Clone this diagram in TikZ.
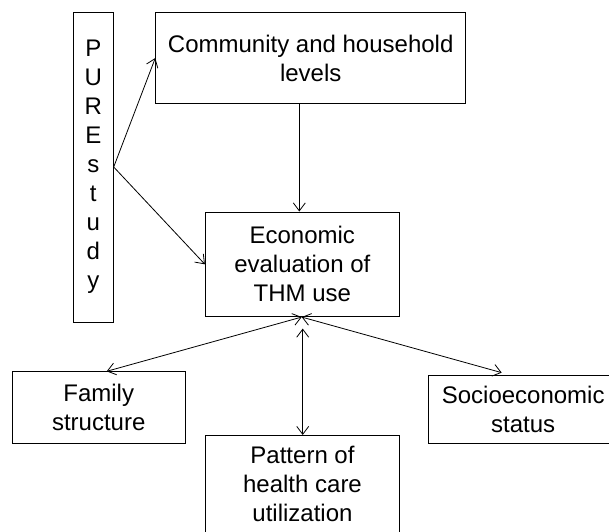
\documentclass[tikz,border=0pt]{standalone}
\usepackage{fontspec}
\setmainfont{Liberation Sans}
\usetikzlibrary{arrows.meta,calc}
\tikzset{
  box/.style={draw, line width=0.8pt, inner sep=0pt, align=center, font=\fontsize{24}{29}\selectfont},
  txt/.style={inner sep=0pt, align=center, font=\fontsize{24}{29}\selectfont},
  conn/.style={line width=0.8pt, -{Straight Barb[length=8pt,width=12pt]}},
  bidir/.style={line width=0.8pt, {Straight Barb[length=8pt,width=12pt]}-{Straight Barb[length=8pt,width=12pt]}}
}
\begin{document}
\begin{tikzpicture}[x=1pt,y=-1pt]
\useasboundingbox (0,0) rectangle (609,531);
\node[box, minimum width=40pt, minimum height=310pt] (pure) at (93.3,167) {P\\U\\R\\E\\s\\t\\u\\d\\y};
\node[box, minimum width=310pt, minimum height=91.4pt] (comm) at (310.7,58) {Community and household\\levels};
\node[box, minimum width=194pt, minimum height=104.7pt] (econ) at (302.3,264.3) {Economic\\evaluation of\\THM use};
\node[box, minimum width=172.7pt, minimum height=71.6pt] (fam) at (98.7,407.5) {Family\\structure};
\node[box, minimum width=190pt, minimum height=68.3pt] (soc) at (523.2,409.2) {Socioeconomic\\status};
\node[box, minimum width=194.3pt, minimum height=130pt, anchor=north] (pat) at (302.2,435) {};
\node[txt, anchor=north] (patlabel) at (302.5,445.5) {Pattern of\\health care\\utilization};
\draw[conn] (pure.east) -- (comm.west);
\draw[conn] (pure.east) -- (econ.west);
\draw[conn] ($(comm.south)+(-11.4,0)$) -- ($(econ.north)+(-3,0)$);
\coordinate (hub) at ($(econ.south)+(-0.6,0)$);
\draw[bidir] (hub) -- ($(fam.north)+(8,0)$);
\draw[bidir] (hub) -- ($(soc.north)+(-21.5,-2)$);
\draw[bidir] ($(econ.south)+(0.4,11.5)$) -- ($(pat.north)+(0.5,0)$);
\end{tikzpicture}
\end{document}
